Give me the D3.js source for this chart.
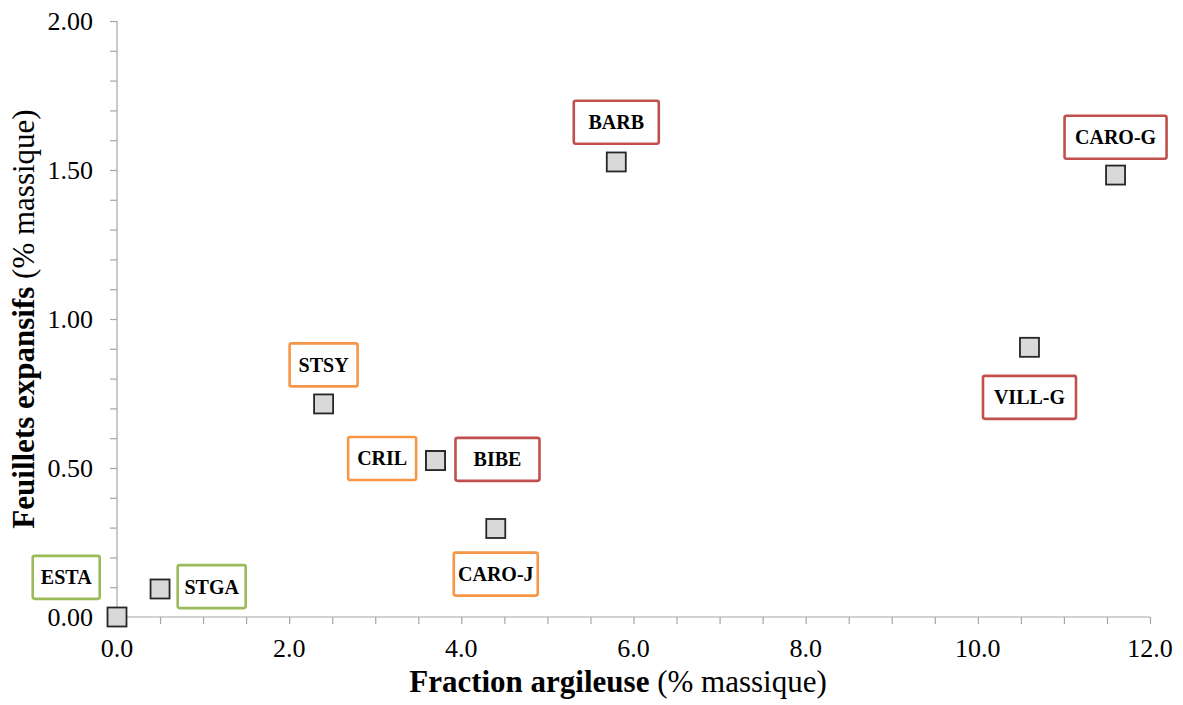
<!DOCTYPE html>
<html>
<head>
<meta charset="utf-8">
<script src="https://cdn.jsdelivr.net/npm/d3@7"></script>
<style>
  body { margin: 0; background: #ffffff; }
  text { font-family: "Liberation Serif", "Times New Roman", serif; }
</style>
</head>
<body>
<svg id="chart" width="1183" height="705"></svg>
<script>
/********/
/* data */
/********/

const sites = ["ESTA", "STGA", "STSY", "CRIL", "CARO-J", "BIBE", "BARB", "VILL-G", "CARO-G"];
const clayFraction = [0.0, 0.5, 2.4, 3.7, 4.4, 3.7, 5.8, 10.6, 11.6];
const expandingLayers = [0.0, 0.094, 0.715, 0.525, 0.297, 0.525, 1.527, 0.905, 1.483];
// label centres, in data units
const labelX = [-0.59, 1.10, 2.40, 3.08, 4.40, 4.42, 5.80, 10.60, 11.60];
const labelY = [0.133, 0.102, 0.846, 0.532, 0.144, 0.529, 1.660, 0.737, 1.610];
const groups = ["green", "green", "orange", "orange", "orange", "red", "red", "red", "red"];

const xTicks = [0, 2, 4, 6, 8, 10, 12];
const yTicks = [0, 0.5, 1, 1.5, 2];

/*********/
/* style */
/*********/

const colours = { red: "#c0504d", orange: "#f79646", green: "#9bbb59" };
const boxWidth = { ESTA: 67, STGA: 68, STSY: 68, CRIL: 68, "CARO-J": 84, BIBE: 84, BARB: 85, "VILL-G": 93, "CARO-G": 102 };
const boxHeight = 43;
const axisColour = "#a6a6a6";

const svg = d3.select("#chart");

const x = d3.scaleLinear().domain([0, 12]).range([117, 1150]);
const y = d3.scaleLinear().domain([0, 2]).range([617, 21]);

/********/
/* axes */
/********/

const xMinor = d3.range(0, 12.01, 0.5);
const yMinor = d3.range(0, 2.001, 0.1);

const gx = svg.append("g").attr("transform", `translate(0,${y(0)})`);
gx.call(d3.axisBottom(x).tickValues(xMinor).tickSize(7).tickFormat(""));
gx.call(g => g.selectAll("text").remove());
gx.selectAll("path, line").attr("stroke", axisColour).attr("stroke-width", 1.2);
gx.select("path").attr("d", `M${x(0)},0H${x(12)}`);

svg.append("g")
  .selectAll("text")
  .data(xTicks)
  .enter()
  .append("text")
  .attr("x", d => x(d))
  .attr("y", 657)
  .attr("text-anchor", "middle")
  .attr("font-size", 26)
  .attr("fill", "#000")
  .text(d => d.toFixed(1));

const gy = svg.append("g").attr("transform", `translate(${x(0)},0)`);
gy.call(d3.axisLeft(y).tickValues(yMinor).tickSize(7).tickFormat(""));
gy.selectAll("path, line").attr("stroke", axisColour).attr("stroke-width", 1.2);
gy.select("path").attr("d", `M0,${y(0)}V${y(2)}`);

svg.append("g")
  .selectAll("text")
  .data(yTicks)
  .enter()
  .append("text")
  .attr("x", 93)
  .attr("y", d => y(d) + 9)
  .attr("text-anchor", "end")
  .attr("font-size", 26)
  .attr("fill", "#000")
  .text(d => d.toFixed(2));

// axis titles
const xTitle = svg.append("text")
  .attr("x", 618)
  .attr("y", 692)
  .attr("text-anchor", "middle")
  .attr("font-size", 31);
xTitle.append("tspan").attr("font-weight", "bold").text("Fraction argileuse");
xTitle.append("tspan").text(" (% massique)");

const yTitle = svg.append("text")
  .attr("transform", `translate(34,${y(1)}) rotate(-90)`)
  .attr("text-anchor", "middle")
  .attr("font-size", 31);
yTitle.append("tspan").attr("font-weight", "bold").text("Feuillets expansifs");
yTitle.append("tspan").text(" (% massique)");

/**********/
/* labels */
/**********/

const labels = svg.append("g")
  .selectAll("g")
  .data(sites)
  .enter()
  .append("g")
  .attr("transform", (d, i) => `translate(${x(labelX[i])},${y(labelY[i])})`);

labels.append("rect")
  .attr("x", d => -boxWidth[d] / 2)
  .attr("y", -boxHeight / 2)
  .attr("width", d => boxWidth[d])
  .attr("height", boxHeight)
  .attr("rx", 2)
  .attr("fill", "#ffffff")
  .attr("stroke", (d, i) => colours[groups[i]])
  .attr("stroke-width", 2.6);

labels.append("text")
  .attr("text-anchor", "middle")
  .attr("dominant-baseline", "central")
  .attr("font-size", 20)
  .attr("font-weight", "bold")
  .attr("fill", "#000")
  .text(d => d);

/**********/
/* points */
/**********/

const size = 19;
svg.append("g")
  .selectAll("rect")
  .data(sites)
  .enter()
  .append("rect")
  .attr("x", (d, i) => x(clayFraction[i]) - size / 2)
  .attr("y", (d, i) => y(expandingLayers[i]) - size / 2)
  .attr("width", size)
  .attr("height", size)
  .attr("fill", "#d9d9d9")
  .attr("stroke", "#262626")
  .attr("stroke-width", 1.8);
</script>
</body>
</html>
